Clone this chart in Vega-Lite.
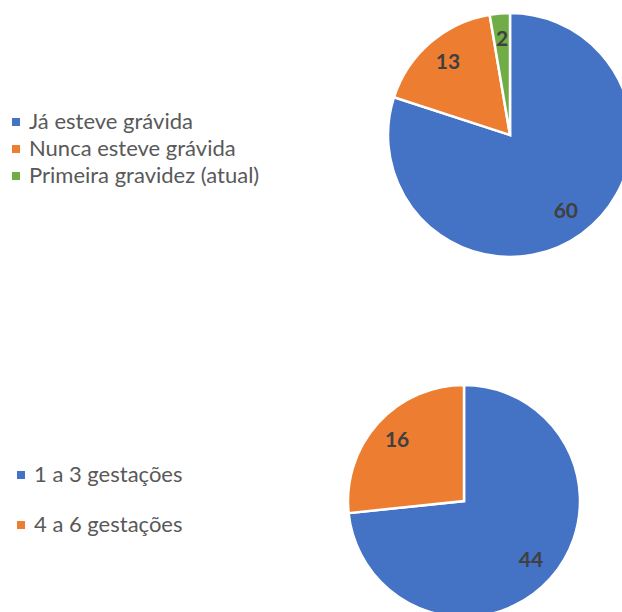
{
  "$schema": "https://vega.github.io/schema/vega-lite/v6.json",
  "padding": {"left": 0, "top": 8, "right": 0, "bottom": 0},
  "columns": 1,
  "spacing": 118,
  "config": {"view": {"stroke": null}, "font": "Lato"},
  "resolve": {"scale": {"color": "independent", "theta": "independent"}, "legend": {"color": "independent"}},
  "concat": [
    {
      "width": 324,
      "height": 244,
      "data": {"values": [
        {"category": "Já esteve grávida", "value": 60},
        {"category": "Nunca esteve grávida", "value": 13},
        {"category": "Primeira gravidez (atual)", "value": 2}
      ]},
      "encoding": {
        "theta": {"field": "value", "type": "quantitative", "stack": true},
        "order": {"field": "category", "type": "ordinal", "sort": "ascending"}
      },
      "layer": [
        {
          "mark": {"type": "arc", "radius": 122, "stroke": "white", "strokeWidth": 2.5},
          "encoding": {
            "color": {
              "field": "category", "type": "nominal",
              "scale": {"domain": ["Já esteve grávida", "Nunca esteve grávida", "Primeira gravidez (atual)"], "range": ["#4472C4", "#ED7D31", "#70AD47"]},
              "legend": {"orient": "none", "legendX": -348, "legendY": 93, "padding": 5, "title": null, "symbolType": "square", "symbolSize": 64, "symbolStrokeWidth": 0, "labelFont": "Lato", "labelFontSize": 22, "labelColor": "#595959", "rowPadding": 5, "labelOffset": 2, "labelLimit": 0}
            }
          }
        },
        {
          "mark": {"type": "text", "radius": 95, "fontSize": 21, "fontWeight": "bold", "color": "#404040"},
          "encoding": {
            "text": {"field": "value", "type": "quantitative"},
            "detail": {"field": "category", "type": "nominal"}
          }
        }
      ]
    },
    {
      "width": 232,
      "height": 232,
      "data": {"values": [
        {"category": "1 a 3 gestações", "value": 44},
        {"category": "4 a 6 gestações", "value": 16}
      ]},
      "encoding": {
        "theta": {"field": "value", "type": "quantitative", "stack": true},
        "order": {"field": "category", "type": "ordinal", "sort": "ascending"}
      },
      "layer": [
        {
          "mark": {"type": "arc", "radius": 116, "stroke": "white", "strokeWidth": 2.5},
          "encoding": {
            "color": {
              "field": "category", "type": "nominal",
              "scale": {"domain": ["1 a 3 gestações", "4 a 6 gestações"], "range": ["#4472C4", "#ED7D31"]},
              "legend": {"orient": "none", "legendX": -348, "legendY": 69, "padding": 10, "title": null, "symbolType": "square", "symbolSize": 64, "symbolStrokeWidth": 0, "labelFont": "Lato", "labelFontSize": 22, "labelColor": "#595959", "rowPadding": 28, "labelOffset": 2, "labelLimit": 0}
            }
          }
        },
        {
          "mark": {"type": "text", "radius": 90, "fontSize": 21, "fontWeight": "bold", "color": "#404040"},
          "encoding": {
            "text": {"field": "value", "type": "quantitative"},
            "detail": {"field": "category", "type": "nominal"}
          }
        }
      ]
    }
  ]
}
